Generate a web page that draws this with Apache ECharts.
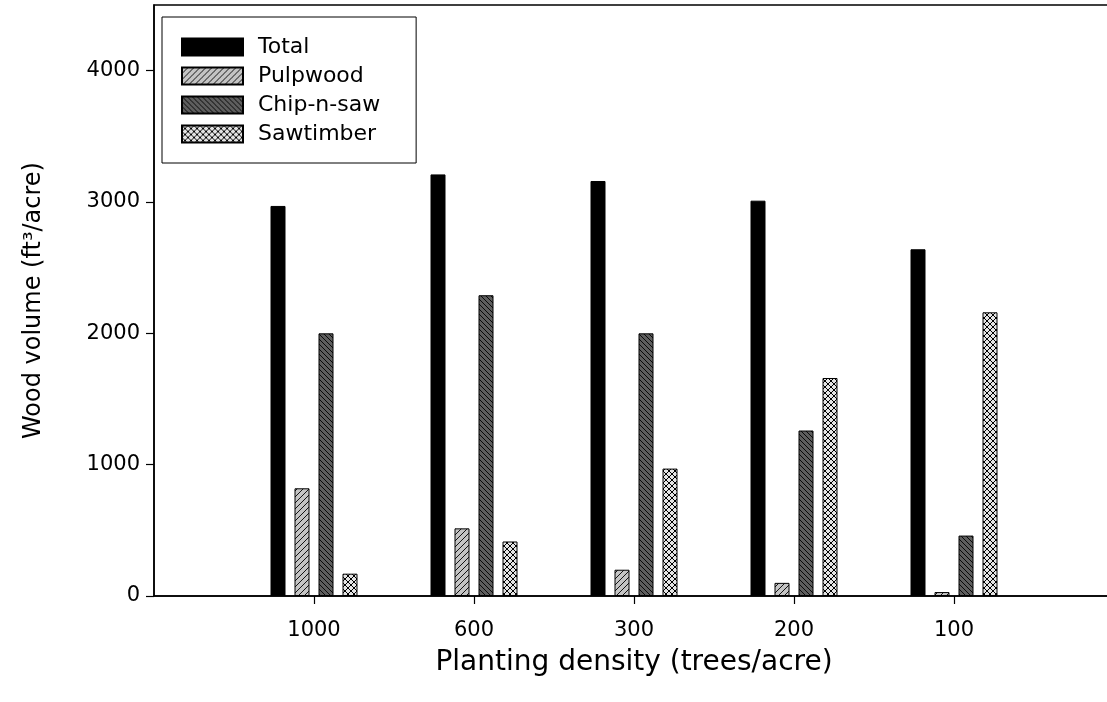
<!DOCTYPE html>
<html>
<head>
<meta charset="utf-8">
<script src="https://cdn.jsdelivr.net/npm/echarts@6/dist/echarts.min.js"></script>
<style>
html,body{margin:0;padding:0;background:#fff;}
#chart{width:1107px;height:702px;}
</style>
</head>
<body>
<div id="chart"></div>
<script>
// ---- Data ----
const categories = ['1000', '600', '300', '200', '100'];
const seriesNames = ['Total', 'Pulpwood', 'Chip-n-saw', 'Sawtimber'];
const totalValues = [2970, 3210, 3160, 3010, 2640];
const pulpwoodValues = [820, 515, 200, 100, 30];
const chipNSawValues = [2000, 2290, 2000, 1260, 460];
const sawtimberValues = [170, 415, 970, 1660, 2160];
const yTickValues = [0, 1000, 2000, 3000, 4000];
const xTitle = 'Planting density (trees/acre)';
const yTitle = 'Wood volume (ft³/acre)';

// ---- Hatch patterns ----
function pattern(bg, size, kinds, lw) {
  const c = document.createElement('canvas');
  c.width = size; c.height = size;
  const g = c.getContext('2d');
  g.fillStyle = bg;
  g.fillRect(0, 0, size, size);
  g.strokeStyle = '#000';
  g.lineWidth = lw;
  kinds.forEach(function (k) {
    g.beginPath();
    for (let i = -1; i <= 1; i++) {
      if (k === '/') { g.moveTo(i * size, size); g.lineTo(i * size + size, 0); }
      else { g.moveTo(i * size, 0); g.lineTo(i * size + size, size); }
    }
    g.stroke();
  });
  return { image: c, repeat: 'repeat' };
}

const fills = [
  '#000000',
  pattern('#c4c4c4', 6, ['/'], 0.9),
  pattern('#5e5e5e', 5, ['\\'], 0.9),
  pattern('#e4e4e4', 6, ['/', '\\'], 1.0)
];
const valueSets = [totalValues, pulpwoodValues, chipNSawValues, sawtimberValues];

const axisCats = [''].concat(categories, ['']);
const pad = arr => [null].concat(arr, [null]);
const FONT = '"DejaVu Sans", "Liberation Sans", sans-serif';

const chart = echarts.init(document.getElementById('chart'), null, { renderer: 'canvas' });
chart.setOption({
  animation: false,
  backgroundColor: '#fff',
  textStyle: { fontFamily: FONT, color: '#000' },
  grid: {
    left: 154, top: 5, width: 960, bottom: 106,
    outerBoundsMode: 'none',
    containLabel: false,
    show: true, borderColor: '#000', borderWidth: 1.5, backgroundColor: 'transparent'
  },
  legend: {
    orient: 'vertical',
    left: 162, top: 17,
    padding: [19, 36, 18, 19],
    itemWidth: 61, itemHeight: 17, itemGap: 7,
    borderColor: '#000', borderWidth: 1,
    selectedMode: false,
    icon: 'rect',
    textStyle: { fontFamily: FONT, fontSize: 22, color: '#000', padding: [0, 0, 0, 10] },
    data: seriesNames
  },
  xAxis: {
    type: 'category',
    data: axisCats,
    boundaryGap: false,
    axisLine: { lineStyle: { color: '#000', width: 1.5 } },
    axisTick: { show: true, length: 8, lineStyle: { color: '#000', width: 1.2 },
      interval: function (i, v) { return v !== ''; } },
    axisLabel: { interval: 0, fontSize: 21, color: '#000', margin: 24, fontFamily: FONT },
    splitLine: { show: false },
    name: xTitle,
    nameLocation: 'middle',
    nameGap: 53,
    nameTextStyle: { fontSize: 28, color: '#000', fontFamily: FONT }
  },
  yAxis: {
    type: 'value',
    min: 0, max: 4500,
    axisLine: { show: true, lineStyle: { color: '#000', width: 1.5 } },
    axisTick: { show: true, length: 8, customValues: yTickValues, lineStyle: { color: '#000', width: 1.2 } },
    axisLabel: { customValues: yTickValues, fontSize: 21, color: '#000', margin: 14, fontFamily: FONT,
      formatter: function (v) { return String(v); } },
    splitLine: { show: false },
    name: yTitle,
    nameLocation: 'middle',
    nameRotate: 90,
    nameGap: 108,
    nameTextStyle: { fontSize: 24, color: '#000', fontFamily: FONT }
  },
  series: seriesNames.map(function (name, i) {
    return {
      name: name,
      type: 'bar',
      data: pad(valueSets[i]),
      barWidth: 15,
      barGap: '60%',
      itemStyle: { color: fills[i], borderColor: '#000', borderWidth: 1 },
      emphasis: { disabled: true }
    };
  })
});
</script>
</body>
</html>
